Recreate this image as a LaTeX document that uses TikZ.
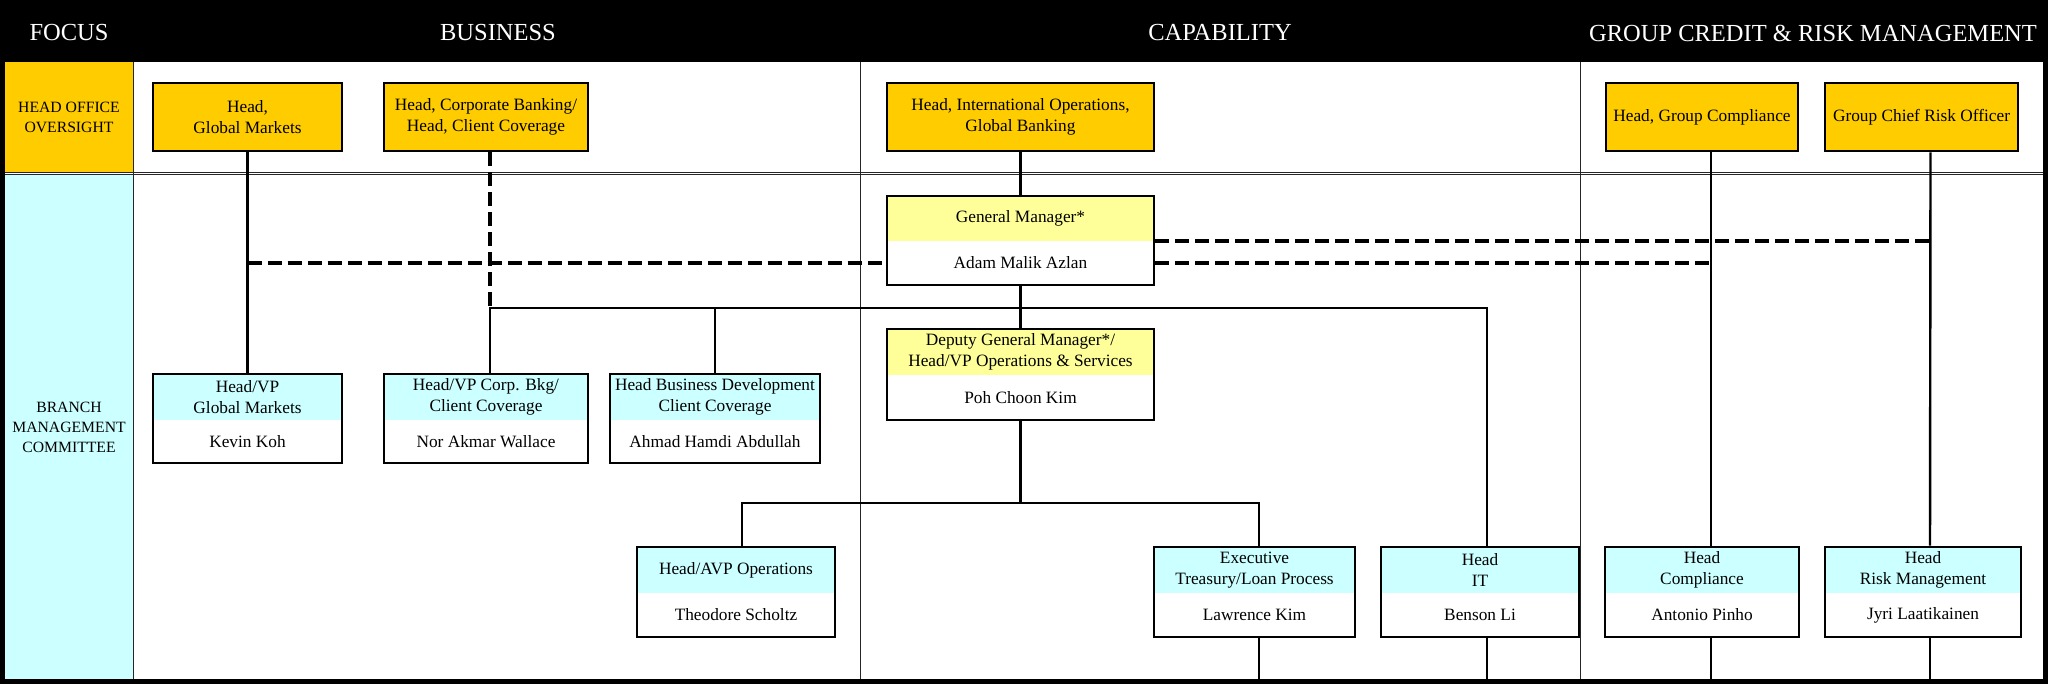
\documentclass[tikz,border=0pt]{standalone}
\usepackage{fontspec}
\setmainfont{Liberation Serif}
\definecolor{gold}{HTML}{FFCC00}
\definecolor{lcyan}{HTML}{CCFFFF}
\definecolor{lyel}{HTML}{FFFF99}
\tikzset{
 txt/.style={font=\fontsize{17.3}{20.5}\selectfont, align=center, inner sep=0pt},
 frame/.style={draw=black, line width=2.6pt, inner sep=0pt},
 conn/.style={line width=2.4pt},
 dconn/.style={line width=4pt, dash pattern=on 14pt off 6pt},
 rule/.style={line width=1pt, draw=black!85},
 hdr/.style={text=white, font=\fontsize{24.5}{28}\selectfont, inner sep=0pt},
 side/.style={font=\fontsize{15.7}{20}\selectfont, align=center, inner sep=0pt},
}
\newcommand\onebox[6]{%
 \node[frame, txt, fill=gold, minimum width={#4-#2}, minimum height={#5-#3}] (#1) at ({(#2+#4)/2},{(#3+#5)/2}) {#6};}
\newcommand\twobox[9]{%
 \fill[#7] (#2,#3) rectangle (#4,#5);
 \node[txt] (#1-a) at ({(#2+#4)/2},{(#3+#5)/2}) {#8};
 \node[txt] (#1-b) at ({(#2+#4)/2},{(#5+#6)/2}) {#9};
 \node[frame, minimum width={#4-#2}, minimum height={#6-#3}] (#1) at ({(#2+#4)/2},{(#3+#6)/2}) {};}
\begin{document}
\begin{tikzpicture}[x=1pt,y=-1pt]
\useasboundingbox (0,0) rectangle (2048,684);
\fill[white] (0,0) rectangle (2048,684);
\fill[black] (0,0) rectangle (2048,62);
\fill[gold] (5,62) rectangle (133,172.5);
\fill[lcyan] (5,174.5) rectangle (133,680);
\draw[rule] (5,172.3) -- (2043,172.3);
\draw[rule] (5,175) -- (2043,175);
\draw[rule] (133,62) -- (133,680);
\draw[rule] (860,62) -- (860,680);
\draw[rule] (1580,62) -- (1580,680);
\fill[black] (0,0) rectangle (5,684);
\fill[black] (2043,0) rectangle (2048,684);
\fill[black] (0,679) rectangle (2048,684);

\node[hdr] (hFocus) at (69,33) {FOCUS};
\node[hdr] (hBus) at (498,33) {BUSINESS};
\node[hdr] (hCap) at (1220,33) {CAPABILITY};
\node[hdr] (hGrp) at (1813,33) {GROUP CREDIT \& RISK MANAGEMENT};
\node[side] (sHO) at (69,117) {HEAD OFFICE\\OVERSIGHT};
\node[side] (sBM) at (69,427) {BRANCH\\MANAGEMENT\\COMMITTEE};

\onebox{hgm}{153}{83}{342}{151}{Head,\\Global Markets}
\onebox{hcb}{384}{83}{588}{151}{Head, Corporate Banking/\\Head, Client Coverage}
\onebox{hio}{887}{83}{1154}{151}{Head, International Operations,\\Global Banking}
\onebox{hgc}{1606}{83}{1798}{151}{Head, Group Compliance}
\onebox{gcro}{1825}{83}{2018}{151}{Group Chief Risk Officer}

\twobox{gm}{887}{196}{1154}{241}{285}{lyel}{General Manager*}{Adam Malik Azlan}
\twobox{dgm}{887}{329}{1154}{375}{420}{lyel}{Deputy General Manager*/\\Head/VP Operations \& Services}{Poh Choon Kim}
\twobox{vgm}{153}{374}{342}{420}{463}{lcyan}{Head/VP\\Global Markets}{Kevin Koh}
\twobox{vcb}{384}{374}{588}{420}{463}{lcyan}{Head/VP Corp. Bkg/\\Client Coverage}{Nor Akmar Wallace}
\twobox{hbd}{610}{374}{820}{420}{463}{lcyan}{Head Business Development\\Client Coverage}{Ahmad Hamdi Abdullah}
\twobox{ops}{637}{547}{835}{593}{637}{lcyan}{Head/AVP Operations}{Theodore Scholtz}
\twobox{lk}{1154}{547}{1355}{593}{637}{lcyan}{Executive\\Treasury/Loan Process}{Lawrence Kim}
\twobox{it}{1381}{547}{1579}{593}{637}{lcyan}{Head\\IT}{Benson Li}
\twobox{co}{1605}{547}{1799}{593}{637}{lcyan}{Head\\Compliance}{Antonio Pinho}
\twobox{rk}{1825}{547}{2021}{593}{637}{lcyan}{Head\\Risk Management}{Jyri Laatikainen}

\coordinate (hl) at (0,308);
\coordinate (hl2) at (0,503);
\coordinate (bot) at (0,679);
\coordinate (d1) at (0,263);
\coordinate (d2) at (0,241);
\coordinate (cbT) at ([xshift=4pt]hcb.south);
\coordinate (cbB) at ([xshift=4pt]vcb.north);
\coordinate (itT) at ([xshift=7pt]it.north);
\coordinate (itB) at ([xshift=7pt]it.south);
\coordinate (coT) at ([xshift=9pt]hgc.south);
\coordinate (coN) at ([xshift=9pt]co.north);
\coordinate (coS) at ([xshift=9pt]co.south);
\coordinate (rkT) at ([xshift=9pt]gcro.south);
\coordinate (rkN) at ([xshift=7pt]rk.north);
\coordinate (rkS) at ([xshift=7pt]rk.south);
\coordinate (lkN) at ([xshift=4.5pt]lk.north);
\coordinate (lkS) at ([xshift=4.5pt]lk.south);
\coordinate (opN) at ([xshift=6pt]ops.north);

\draw[conn] (hgm.south) -- (vgm.north);
\draw[dconn] (cbT) -- (cbT |- hl);
\draw[conn] (cbB) -- (cbB |- hl) -- (itT |- hl) -- (itT);
\draw[conn] (hbd.north) -- (hbd.north |- hl);
\draw[conn] (hio.south) -- (gm.north);
\draw[conn] (gm.south) -- (dgm.north);
\draw[conn] (dgm.south) -- (dgm.south |- hl2);
\draw[conn] (opN) -- (opN |- hl2) -- (lkN |- hl2) -- (lkN);
\draw[conn] (lkS) -- (lkS |- bot);
\draw[conn] (itB) -- (itB |- bot);
\draw[conn] (coT) -- (coN);
\draw[conn] (coS) -- (coS |- bot);
\draw[conn] (rkT) -- (rkN);
\draw[conn] (rkS) -- (rkS |- bot);
\draw[dconn] (hgm.south |- d1) -- (gm.west |- d1);
\draw[dconn] (gm.east |- d1) -- (coT |- d1);
\draw[dconn] (gm.east |- d2) -- (rkT |- d2);
\end{tikzpicture}
\end{document}
